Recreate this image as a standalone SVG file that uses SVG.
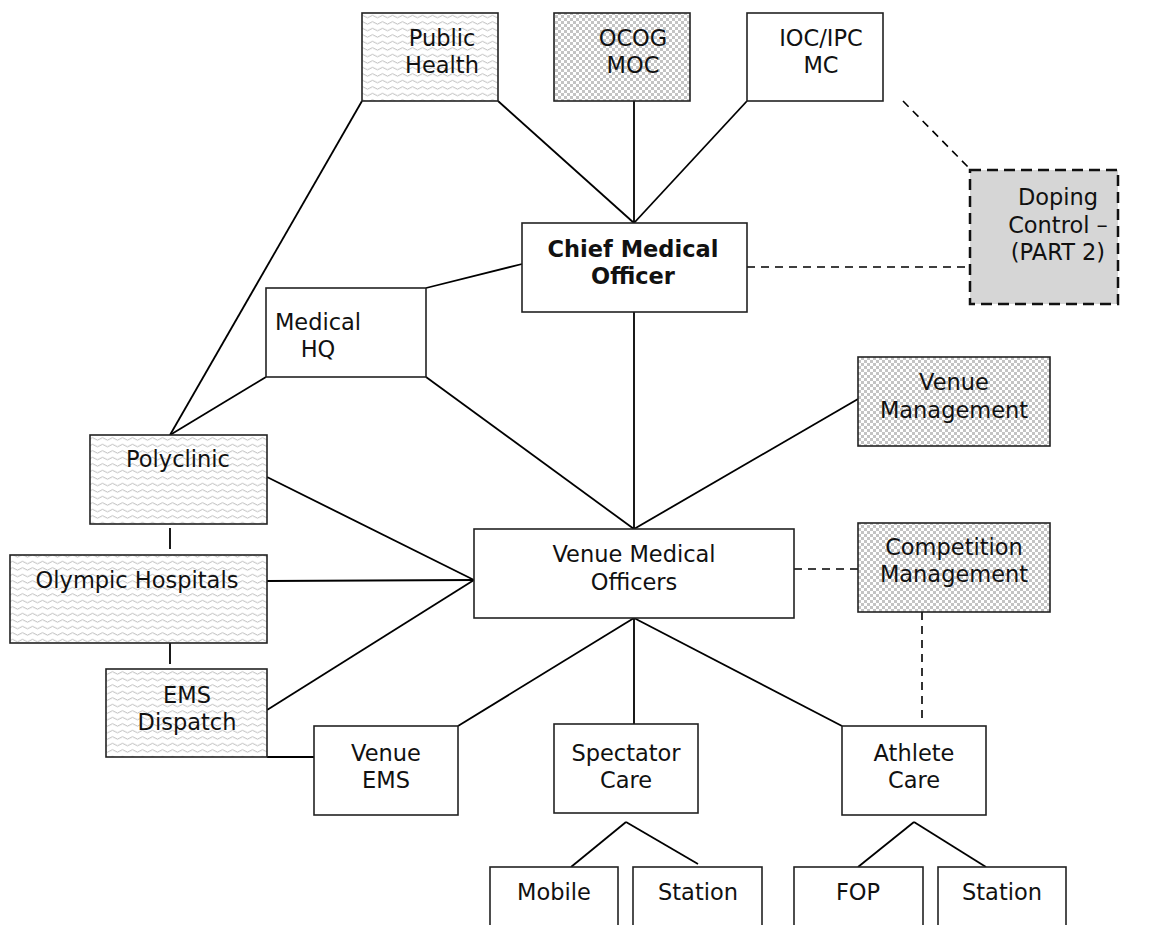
<svg xmlns="http://www.w3.org/2000/svg" width="1149" height="925" viewBox="0 0 1149 925">
  <defs>
    <pattern id="wave" width="10" height="6.5" patternUnits="userSpaceOnUse">
      <rect width="10" height="6.5" fill="#ffffff"/>
      <path d="M0,3.5 Q2.5,1 5,3.5 T10,3.5" fill="none" stroke="#b4b4b4" stroke-width="0.9"/>
    </pattern>
    <pattern id="check" width="6" height="6" patternUnits="userSpaceOnUse">
      <rect width="6" height="6" fill="#ffffff"/>
      <rect width="3" height="3" fill="#c4c4c4"/>
      <rect x="3" y="3" width="3" height="3" fill="#c4c4c4"/>
    </pattern>
    <style>
      .box { fill: #ffffff; stroke: #222222; stroke-width: 1.6; }
      .wave { fill: url(#wave); stroke: #222222; stroke-width: 1.6; }
      .check { fill: url(#check); stroke: #222222; stroke-width: 1.6; }
      .dope { fill: #d6d6d6; stroke: #111111; stroke-width: 2.5; stroke-dasharray: 11 6; }
      .lbl { font-family: "DejaVu Sans", "Liberation Sans", sans-serif; font-size: 22.5px; fill: #111111; text-anchor: middle; }
      .bold { font-weight: bold; }
      .link { stroke: #000000; stroke-width: 1.8; fill: none; }
      .dash { stroke: #000000; stroke-width: 1.6; fill: none; stroke-dasharray: 8 6; }
    </style>
  </defs>

  <!-- connectors -->
  <g id="connectors">
    <line class="link" x1="498" y1="101" x2="634" y2="223"/>
    <line class="link" x1="634" y1="101" x2="634" y2="223"/>
    <line class="link" x1="747" y1="101" x2="634" y2="223"/>
    <line class="link" x1="362" y1="101" x2="170" y2="435"/>
    <line class="link" x1="266" y1="377" x2="170" y2="435"/>
    <line class="link" x1="426" y1="288" x2="522" y2="264"/>
    <line class="link" x1="634" y1="312" x2="634" y2="529"/>
    <line class="link" x1="426" y1="377" x2="634" y2="529"/>
    <line class="link" x1="858" y1="399" x2="634" y2="529"/>
    <line class="link" x1="267" y1="477" x2="474" y2="580"/>
    <line class="link" x1="267" y1="581" x2="474" y2="580"/>
    <line class="link" x1="267" y1="710" x2="474" y2="580"/>
    <line class="link" x1="170" y1="528" x2="170" y2="549"/>
    <line class="link" x1="170" y1="643" x2="170" y2="664"/>
    <line class="link" x1="267" y1="757" x2="314" y2="757"/>
    <line class="link" x1="634" y1="618" x2="458" y2="726"/>
    <line class="link" x1="634" y1="618" x2="634" y2="724"/>
    <line class="link" x1="634" y1="618" x2="842" y2="726"/>
    <line class="link" x1="626" y1="822" x2="571" y2="867"/>
    <line class="link" x1="626" y1="822" x2="698" y2="864"/>
    <line class="link" x1="914" y1="822" x2="858" y2="867"/>
    <line class="link" x1="914" y1="822" x2="986" y2="867"/>
    <line class="dash" x1="903" y1="101" x2="970" y2="169"/>
    <line class="dash" x1="747" y1="267" x2="970" y2="267"/>
    <line class="dash" x1="794" y1="569" x2="858" y2="569"/>
    <line class="dash" x1="922" y1="612" x2="922" y2="724"/>
  </g>

  <!-- top row -->
  <g id="public-health">
    <rect class="wave" x="362" y="13" width="136" height="88"/>
    <text class="lbl" x="442" y="46">Public</text>
    <text class="lbl" x="442" y="73">Health</text>
  </g>
  <g id="ocog-moc">
    <rect class="check" x="554" y="13" width="136" height="88"/>
    <text class="lbl" x="633" y="46">OCOG</text>
    <text class="lbl" x="633" y="73">MOC</text>
  </g>
  <g id="ioc-ipc-mc">
    <rect class="box" x="747" y="13" width="136" height="88"/>
    <text class="lbl" x="821" y="46">IOC/IPC</text>
    <text class="lbl" x="821" y="73">MC</text>
  </g>

  <g id="doping-control">
    <rect class="dope" x="970" y="170" width="148" height="134"/>
    <text class="lbl" x="1058" y="205">Doping</text>
    <text class="lbl" x="1058" y="233">Control –</text>
    <text class="lbl" x="1058" y="260">(PART 2)</text>
  </g>

  <g id="chief-medical-officer">
    <rect class="box" x="522" y="223" width="225" height="89"/>
    <text class="lbl bold" x="633" y="257">Chief Medical</text>
    <text class="lbl bold" x="633" y="284">Officer</text>
  </g>

  <g id="medical-hq">
    <rect class="box" x="266" y="288" width="160" height="89"/>
    <text class="lbl" x="318" y="330">Medical</text>
    <text class="lbl" x="318" y="357">HQ</text>
  </g>

  <g id="venue-management">
    <rect class="check" x="858" y="357" width="192" height="89"/>
    <text class="lbl" x="954" y="390">Venue</text>
    <text class="lbl" x="954" y="418">Management</text>
  </g>

  <!-- left column -->
  <g id="polyclinic">
    <rect class="wave" x="90" y="435" width="177" height="89"/>
    <text class="lbl" x="178" y="467">Polyclinic</text>
  </g>
  <g id="olympic-hospitals">
    <rect class="wave" x="10" y="555" width="257" height="88"/>
    <text class="lbl" x="137" y="588">Olympic Hospitals</text>
  </g>
  <g id="ems-dispatch">
    <rect class="wave" x="106" y="669" width="161" height="88"/>
    <text class="lbl" x="187" y="703">EMS</text>
    <text class="lbl" x="187" y="730">Dispatch</text>
  </g>

  <g id="venue-medical-officers">
    <rect class="box" x="474" y="529" width="320" height="89"/>
    <text class="lbl" x="634" y="562">Venue Medical</text>
    <text class="lbl" x="634" y="590">Officers</text>
  </g>

  <g id="competition-management">
    <rect class="check" x="858" y="523" width="192" height="89"/>
    <text class="lbl" x="954" y="555">Competition</text>
    <text class="lbl" x="954" y="582">Management</text>
  </g>

  <!-- care units -->
  <g id="venue-ems">
    <rect class="box" x="314" y="726" width="144" height="89"/>
    <text class="lbl" x="386" y="761">Venue</text>
    <text class="lbl" x="386" y="788">EMS</text>
  </g>
  <g id="spectator-care">
    <rect class="box" x="554" y="724" width="144" height="89"/>
    <text class="lbl" x="626" y="761">Spectator</text>
    <text class="lbl" x="626" y="788">Care</text>
  </g>
  <g id="athlete-care">
    <rect class="box" x="842" y="726" width="144" height="89"/>
    <text class="lbl" x="914" y="761">Athlete</text>
    <text class="lbl" x="914" y="788">Care</text>
  </g>

  <!-- bottom row, boxes run off the lower edge -->
  <g id="mobile">
    <rect class="box" x="490" y="867" width="128" height="80"/>
    <text class="lbl" x="554" y="900">Mobile</text>
  </g>
  <g id="spectator-station">
    <rect class="box" x="633" y="867" width="129" height="80"/>
    <text class="lbl" x="698" y="900">Station</text>
  </g>
  <g id="fop">
    <rect class="box" x="794" y="867" width="129" height="80"/>
    <text class="lbl" x="858" y="900">FOP</text>
  </g>
  <g id="athlete-station">
    <rect class="box" x="938" y="867" width="128" height="80"/>
    <text class="lbl" x="1002" y="900">Station</text>
  </g>
</svg>
